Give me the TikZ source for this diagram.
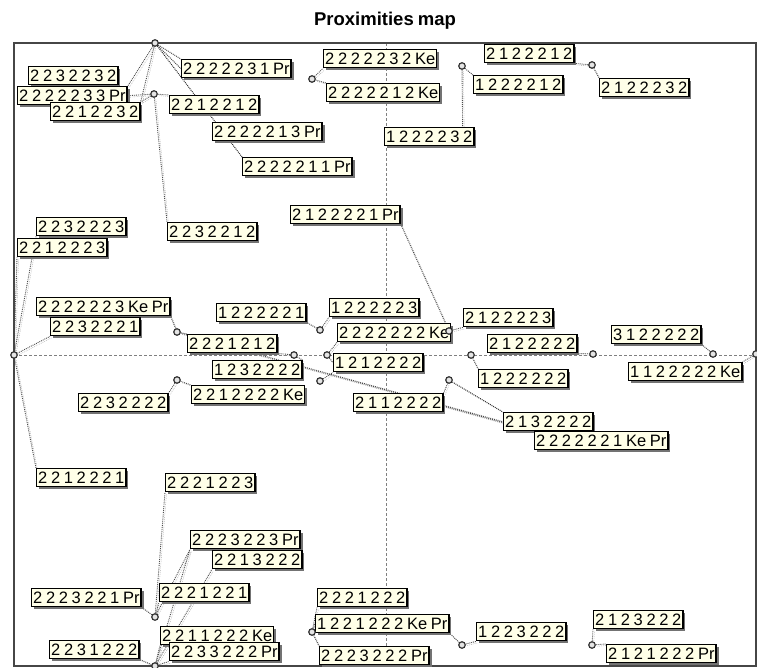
\documentclass[tikz,border=0pt]{standalone}
\usepackage{fontspec}
\setmainfont{Liberation Sans}[WordSpace=0.8]
\usetikzlibrary{shadows,backgrounds}
\definecolor{LabelCream}{RGB}{255,255,232}
\definecolor{FrameGray}{RGB}{70,70,70}

\begin{document}
\begin{tikzpicture}[x=1pt,y=-1pt,
  lab/.style={draw=black,line width=1.4pt,fill=LabelCream,anchor=north west,
    inner xsep=1.5pt,inner ysep=0pt,minimum height=18pt,
    font=\fontsize{16.5}{17}\selectfont,
    drop shadow={shadow xshift=2.5pt,shadow yshift=-2.5pt,fill=black!55,opacity=1}},
  pt/.style={circle,draw=black!80,fill=black!10,line width=1.2pt,
    inner sep=0pt,minimum size=6.5pt},
  lead/.style={draw=black!70,densely dotted,line width=0.9pt,
    preaction={draw=black!35,densely dotted,
      transform canvas={shift={(1.5pt,-1.5pt)}}}},
  axis/.style={draw=black!50,dash pattern=on 3pt off 2pt,line width=0.6pt}
]
\useasboundingbox (0,0) rectangle (757,668);

\node[anchor=base,font=\fontsize{18.5}{19}\selectfont\bfseries] (title) at (385,26) {Proximities map};

% axes and frame
\draw[axis] (386,43) -- (386,666);
\draw[axis] (14,355) -- (756,355);
\draw[line width=1.2pt,draw=FrameGray] (14,43) rectangle (756,666);

% labels, top left
\node[lab] (l2232232) at (28,66) {2 2 3 2 2 3 2};
\node[lab] (l2222233Pr) at (17,86) {2 2 2 2 2 3 3 Pr};
\node[lab] (l2212232) at (50,102) {2 2 1 2 2 3 2};
\node[lab] (l2222231Pr) at (181,59) {2 2 2 2 2 3 1 Pr};
\node[lab] (l2212212) at (169,95) {2 2 1 2 2 1 2};
\node[lab] (l2222213Pr) at (212,122) {2 2 2 2 2 1 3 Pr};
\node[lab] (l2222211Pr) at (242,157) {2 2 2 2 2 1 1 Pr};
% labels, top right
\node[lab] (l2222232Ke) at (323,49) {2 2 2 2 2 3 2 Ke};
\node[lab] (l2222212Ke) at (326,83) {2 2 2 2 2 1 2 Ke};
\node[lab] (l1222212) at (473,75) {1 2 2 2 2 1 2};
\node[lab] (l1222232) at (384,127) {1 2 2 2 2 3 2};
\node[lab] (l2122212) at (484,44) {2 1 2 2 2 1 2};
\node[lab] (l2122232) at (599,78) {2 1 2 2 2 3 2};
% labels, middle
\node[lab] (l2122221Pr) at (290,205) {2 1 2 2 2 2 1 Pr};
\node[lab] (l2232212) at (167,222) {2 2 3 2 2 1 2};
\node[lab] (l2232223) at (36,217) {2 2 3 2 2 2 3};
\node[lab] (l2212223) at (17,238) {2 2 1 2 2 2 3};
\node[lab] (l2222223KePr) at (36,297) {2 2 2 2 2 2 3 Ke Pr};
\node[lab] (l2232221) at (50,317) {2 2 3 2 2 2 1};
\node[lab] (l1222221) at (216,303) {1 2 2 2 2 2 1};
\node[lab] (l2221212) at (187,334) {2 2 2 1 2 1 2};
\node[lab] (l1232222) at (212,360) {1 2 3 2 2 2 2};
\node[lab] (l2232222) at (78,393) {2 2 3 2 2 2 2};
\node[lab] (l2212222Ke) at (191,385) {2 2 1 2 2 2 2 Ke};
\node[lab] (l1222223) at (329,298) {1 2 2 2 2 2 3};
\node[lab] (l2222222Ke) at (337,323) {2 2 2 2 2 2 2 Ke};
\node[lab] (l1212222) at (333,353) {1 2 1 2 2 2 2};
\node[lab] (l2112222) at (353,393) {2 1 1 2 2 2 2};
\node[lab] (l2122223) at (463,308) {2 1 2 2 2 2 3};
\node[lab] (l2122222) at (487,334) {2 1 2 2 2 2 2};
\node[lab] (l1222222) at (478,369) {1 2 2 2 2 2 2};
\node[lab] (l2132222) at (503,412) {2 1 3 2 2 2 2};
\node[lab] (l2222221KePr) at (534,431) {2 2 2 2 2 2 1 Ke Pr};
\node[lab] (l3122222) at (611,325) {3 1 2 2 2 2 2};
\node[lab] (l1122222Ke) at (628,362) {1 1 2 2 2 2 2 Ke};
% labels, bottom
\node[lab] (l2212221) at (36,468) {2 2 1 2 2 2 1};
\node[lab] (l2221223) at (165,473) {2 2 2 1 2 2 3};
\node[lab] (l2223223Pr) at (190,530) {2 2 2 3 2 2 3 Pr};
\node[lab] (l2213222) at (212,550) {2 2 1 3 2 2 2};
\node[lab] (l2221221) at (159,583) {2 2 2 1 2 2 1};
\node[lab] (l2223221Pr) at (31,588) {2 2 2 3 2 2 1 Pr};
\node[lab] (l2211222Ke) at (160,626) {2 2 1 1 2 2 2 Ke};
\node[lab] (l2233222Pr) at (169,642) {2 2 3 3 2 2 2 Pr};
\node[lab] (l2231222) at (49,640) {2 2 3 1 2 2 2};
\node[lab] (l2221222) at (317,588) {2 2 2 1 2 2 2};
\node[lab] (l1221222KePr) at (315,614) {1 2 2 1 2 2 2 Ke Pr};
\node[lab] (l2223222Pr) at (319,646) {2 2 2 3 2 2 2 Pr};
\node[lab] (l1223222) at (476,622) {1 2 2 3 2 2 2};
\node[lab] (l2123222) at (593,610) {2 1 2 3 2 2 2};
\node[lab] (l2121222Pr) at (606,644) {2 1 2 1 2 2 2 Pr};

% points
\node[pt] (p1) at (155,43) {};
\node[pt] (p2) at (154,94) {};
\node[pt] (p3) at (312,79) {};
\node[pt] (p4) at (462,66) {};
\node[pt] (p5) at (592,65) {};
\node[pt] (p6) at (14,355) {};
\node[pt] (p7) at (177,332) {};
\node[pt] (p8) at (177,380) {};
\node[pt] (p9) at (294,355) {};
\node[pt] (p10) at (320,330) {};
\node[pt] (p11) at (327,355) {};
\node[pt] (p12) at (320,381) {};
\node[pt] (p13) at (449,331) {};
\node[pt] (p14) at (471,355) {};
\node[pt] (p15) at (449,380) {};
\node[pt] (p16) at (593,354) {};
\node[pt] (p17) at (713,354) {};
\node[pt] (p18) at (756,354) {};
\node[pt] (p19) at (155,617) {};
\node[pt] (p20) at (155,666) {};
\node[pt] (p21) at (312,632) {};
\node[pt] (p22) at (462,645) {};
\node[pt] (p23) at (592,645) {};

% leader lines behind the labels
\begin{pgfonlayer}{background}
\draw[lead] (p1) -- (l2222231Pr.north west) (p1) -- (l2222231Pr.west);
\draw[lead,draw=black!85] (p1) -- (l2222211Pr.north west);
\draw[lead] (p1) -- (l2222233Pr.north east) (p1) -- (l2212232.north east);
\draw[lead] (p2) -- (l2222233Pr.east) (p2) -- (l2212232.north east);
\draw[lead] (p2) -- (l2212212.north west);
\draw[lead] (p2) -- (l2232212.north west);
\draw[lead] (p3) -- (l2222232Ke.south west) (p3) -- (l2222212Ke.north west);
\draw[lead] (p4) -- (l1222212.north west);
\draw[lead] (p4) -- ([xshift=-12pt]l1222232.north east);
\draw[lead] (p5) -- (l2122212.south east) (p5) -- (l2122232.north west);
\draw[lead] (l2122221Pr.south east) -- (p13);
\draw[lead] (p13) -- (l2122223.south west);
\draw[lead] (p10) -- (l1222221.south east) (p10) -- (l1222223.south west);
\draw[lead] (p11) -- (l2222222Ke.south west) (p11) -- (l1212222.west);
\draw[lead] (p12) -- (l1212222.south west);
\draw[lead] (p9) -- (l1232222.north east);
\draw[lead] (l2221212.south east) -- (p9);
\draw[lead] (p7) -- (l2222223KePr.south east) (p7) -- (l2221212.north west);
\draw[lead] (p7) -- (l2132222.west) (p7) -- (l2222221KePr.north west);
\draw[lead] (p8) -- (l2232222.north east) (p8) -- (l2212222Ke.north west);
\draw[lead] (p6) -- (l2212223.south west) (p6) -- (l2232223.south west);
\draw[lead] (p6) -- (l2232221.south west) (p6) -- (l2212221.north west);
\draw[lead] (p14) -- (l1222222.north west);
\draw[lead,draw=black!85] (p15) -- (l2132222.north west);
\draw[lead] (p15) -- (l2112222.north east);
\draw[lead] (l2122222.south east) -- (p16);
\draw[lead] (l3122222.south east) -- (p17);
\draw[lead] (p18) -- (l1122222Ke.north east);
\draw[lead] (p19) -- (l2221223.south west) (p19) -- (l2223223Pr.south west);
\draw[lead] (p19) -- (l2223221Pr.south east) (p19) -- (l2221221.south west);
\draw[lead] (p20) -- (l2213222.south west) (p20) -- (l2223223Pr.south west);
\draw[lead] (p20) -- (l2211222Ke.south west) (p20) -- (l2233222Pr.south west);
\draw[lead] (p20) -- (l2231222.south east);
\draw[lead] (p21) -- (l2221222.south west) (p21) -- (l1221222KePr.west);
\draw[lead] (p21) -- (l2223222Pr.north west);
\draw[lead] (p22) -- (l1223222.south west) (p22) -- (l1221222KePr.south east);
\draw[lead] (p23) -- (l2123222.south west) (p23) -- (l2121222Pr.north west);
\end{pgfonlayer}
\end{tikzpicture}
\end{document}
